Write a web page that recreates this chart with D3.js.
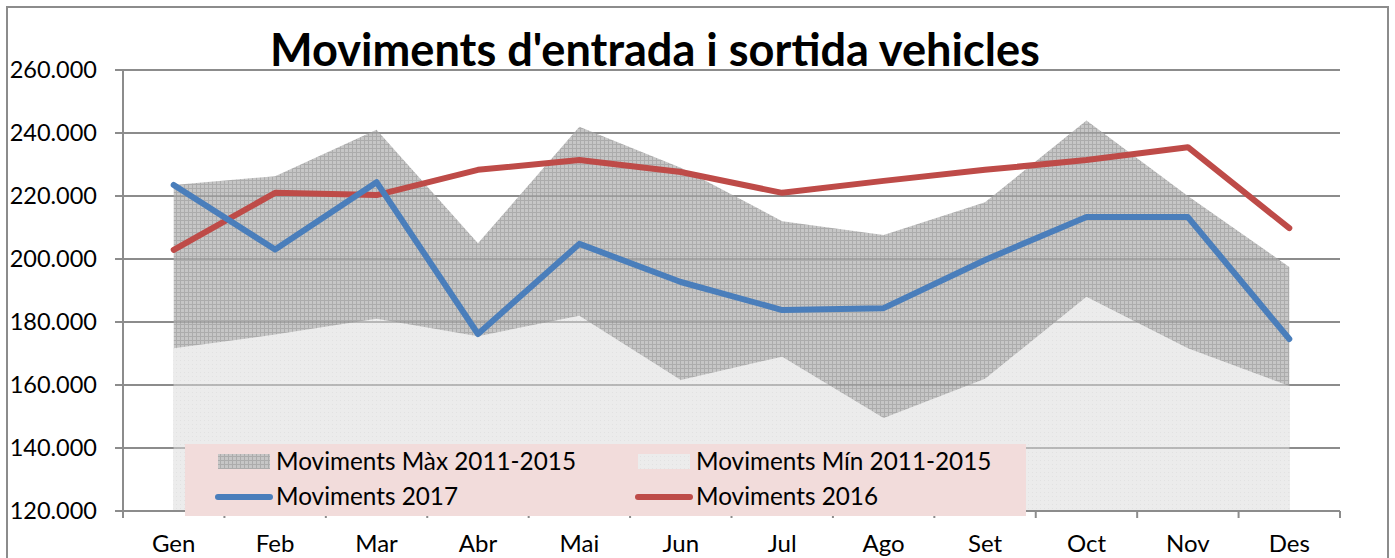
<!DOCTYPE html>
<html>
<head>
<meta charset="utf-8">
<script src="https://cdn.jsdelivr.net/npm/d3@7"></script>
<style>
  body { margin: 0; background: #fff; }
  text { font-family: Lato, "Open Sans", sans-serif; fill: #000; }
</style>
</head>
<body>
<svg></svg>
<script>
const months = ["Gen", "Feb", "Mar", "Abr", "Mai", "Jun", "Jul", "Ago", "Set", "Oct", "Nov", "Des"];
const maxValues = [223500, 226300, 241000, 205000, 242000, 229000, 212000, 207600, 218000, 244000, 220000, 197500];
const minValues = [171700, 176000, 181000, 175500, 182000, 161600, 169000, 149500, 162000, 188000, 171700, 159700];
const values2017 = [223500, 203000, 224400, 176200, 204800, 192700, 183800, 184400, 199700, 213300, 213300, 174600];
const values2016 = [202900, 221000, 220300, 228300, 231400, 227600, 221000, 224800, 228300, 231400, 235500, 209800];
const yTicks = [120000, 140000, 160000, 180000, 200000, 220000, 240000, 260000];

const svg = d3.select("svg").attr("width", 1395).attr("height", 558);

// patterns for the areas
const defs = svg.append("defs");
const pMax = defs.append("pattern").attr("id", "pmax")
  .attr("width", 4).attr("height", 4).attr("patternUnits", "userSpaceOnUse");
pMax.append("rect").attr("width", 4).attr("height", 4).attr("fill", "#c6c6c6");
pMax.append("rect").attr("width", 4).attr("height", 1).attr("fill", "#acacac");
pMax.append("rect").attr("width", 1).attr("height", 4).attr("fill", "#acacac");
const pMin = defs.append("pattern").attr("id", "pmin")
  .attr("width", 4).attr("height", 4).attr("patternUnits", "userSpaceOnUse");
pMin.append("rect").attr("width", 4).attr("height", 4).attr("fill", "#ececec");
pMin.append("rect").attr("width", 1).attr("height", 1).attr("fill", "#e2e2e2");

// outer border
svg.append("rect").attr("x", 7).attr("y", 7).attr("width", 1381).attr("height", 560)
  .attr("fill", "none").attr("stroke", "#8c8c8c").attr("stroke-width", 2);

const plotLeft = 123, plotRight = 1340, plotTop = 70, plotBottom = 511;

const x = d3.scaleBand().domain(months).range([plotLeft, plotRight]);
const xc = (d, i) => x(months[i]) + x.bandwidth() / 2;
const y = d3.scaleLinear().domain([120000, 260000]).range([plotBottom, plotTop]);

// gridlines
svg.append("g")
  .selectAll("line")
  .data(yTicks)
  .enter()
  .append("line")
  .attr("x1", plotLeft - 8)
  .attr("x2", plotRight)
  .attr("y1", d => y(d))
  .attr("y2", d => y(d))
  .attr("stroke", "#8c8c8c")
  .attr("stroke-width", 2);

// areas
const areaGen = d3.area().x(xc).y0(y(120000)).y1(d => y(d));
svg.append("path").datum(maxValues).attr("d", areaGen).attr("fill", "url(#pmax)");
svg.append("path").datum(minValues).attr("d", areaGen).attr("fill", "url(#pmin)");

// gridlines showing through the areas
svg.append("g")
  .selectAll("line")
  .data(yTicks.slice(1))
  .enter()
  .append("line")
  .attr("x1", plotLeft)
  .attr("x2", plotRight)
  .attr("y1", d => y(d))
  .attr("y2", d => y(d))
  .attr("stroke", "#8c8c8c")
  .attr("stroke-opacity", 0.55)
  .attr("stroke-width", 2);

// y axis line
svg.append("line").attr("x1", plotLeft).attr("x2", plotLeft).attr("y1", plotTop).attr("y2", plotBottom + 6)
  .attr("stroke", "#8c8c8c").attr("stroke-width", 2);

// x axis line + ticks at band edges
svg.append("line").attr("x1", plotLeft).attr("x2", plotRight).attr("y1", plotBottom).attr("y2", plotBottom)
  .attr("stroke", "#8c8c8c").attr("stroke-width", 2);
svg.append("g")
  .selectAll("line")
  .data(months.map(m => x(m)).concat([plotRight]))
  .enter()
  .append("line")
  .attr("x1", d => d).attr("x2", d => d)
  .attr("y1", plotBottom).attr("y2", plotBottom + 7)
  .attr("stroke", "#8c8c8c").attr("stroke-width", 2);

// y labels
const fmt = d3.format(",.0f");
svg.append("g")
  .selectAll("text")
  .data(yTicks)
  .enter()
  .append("text")
  .attr("x", 97)
  .attr("y", d => y(d) + 8)
  .attr("text-anchor", "end")
  .style("font-size", "23.5px")
  .text(d => fmt(d).replace(/,/g, "."));

// x labels
svg.append("g")
  .selectAll("text")
  .data(months)
  .enter()
  .append("text")
  .attr("x", d => x(d) + x.bandwidth() / 2)
  .attr("y", 552)
  .attr("text-anchor", "middle")
  .style("font-size", "24px")
  .text(d => d);

// lines
const lineGen = d3.line().x(xc).y(d => y(d));
svg.append("path").datum(values2016).attr("d", lineGen)
  .attr("fill", "none").attr("stroke", "#be4b48").attr("stroke-width", 6)
  .attr("stroke-linecap", "round").attr("stroke-linejoin", "round");
svg.append("path").datum(values2017).attr("d", lineGen)
  .attr("fill", "none").attr("stroke", "#4a7ebb").attr("stroke-width", 6)
  .attr("stroke-linecap", "round").attr("stroke-linejoin", "round");

// legend
const legend = svg.append("g");
legend.append("rect").attr("x", 185).attr("y", 444).attr("width", 841).attr("height", 72)
  .attr("fill", "#f2dcdb");
const items = [
  { name: "Moviments Màx 2011-2015", type: "area", fill: "url(#pmax)", x: 218, y: 462 },
  { name: "Moviments Mín 2011-2015", type: "area", fill: "url(#pmin)", x: 638, y: 462 },
  { name: "Moviments 2017", type: "line", color: "#4a7ebb", x: 218, y: 497 },
  { name: "Moviments 2016", type: "line", color: "#be4b48", x: 638, y: 497 }
];
items.forEach(it => {
  if (it.type === "area") {
    legend.append("rect").attr("x", it.x).attr("y", it.y - 8).attr("width", 52).attr("height", 15)
      .attr("fill", it.fill);
  } else {
    legend.append("line").attr("x1", it.x).attr("x2", it.x + 52).attr("y1", it.y).attr("y2", it.y)
      .attr("stroke", it.color).attr("stroke-width", 6).attr("stroke-linecap", "round");
  }
  legend.append("text").attr("x", it.x + 58).attr("y", it.y + 8)
    .style("font-size", "24.3px").text(it.name);
});

// title
const title = svg.append("text")
  .attr("x", 655)
  .attr("y", 66)
  .attr("text-anchor", "middle")
  .style("font-size", "40px")
  .style("font-weight", "bold")
  .text("Moviments d'entrada i sortida vehicles");
const tw = title.node().getComputedTextLength();
title.style("font-size", (40 * 770 / tw) + "px");
</script>
</body>
</html>
